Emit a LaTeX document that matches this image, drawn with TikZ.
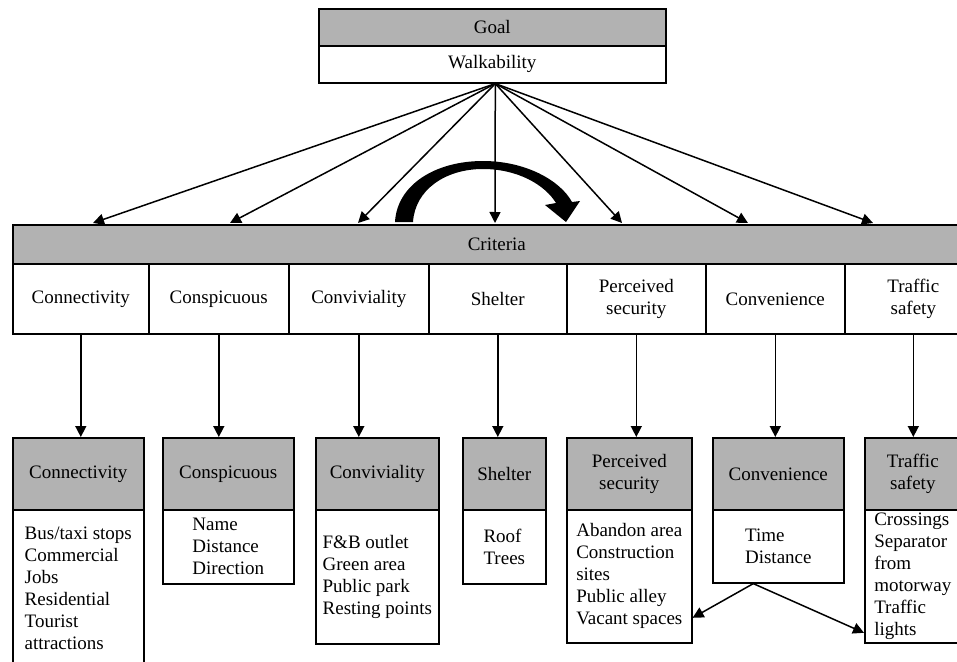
\documentclass[tikz,border=0pt]{standalone}
\usepackage{fontspec}
\setmainfont{Liberation Serif}
\usetikzlibrary{arrows.meta}

\tikzset{
  box/.style={draw, line width=1.6pt, inner sep=0pt, anchor=north west},
  headbox/.style={box, fill=black!30},
  bodybox/.style={box, fill=white, align=left},
  arr/.style={-{Triangle[length=11pt, width=11pt]}, line width=1.5pt},
}

\begin{document}
\begin{tikzpicture}[x=1pt, y=-1pt, font=\fontsize{19}{22}\selectfont]
\useasboundingbox (0,0) rectangle (957,661);
\clip (0,0) rectangle (957,661);
\fill[white] (0,0) rectangle (957,661);

% goal
\node[headbox, minimum width=347, minimum height=37] (goal) at (318,8) {Goal};
\node[box, minimum width=347, minimum height=37] (walk) at (318,45) {Walkability};

% criteria bar and its cells
\node[headbox, minimum width=968, minimum height=39] (crit) at (12,224) {Criteria};
\foreach \x/\w/\name/\txt in {12/136/c1/Connectivity, 148/140/c2/Conspicuous,
    288/140/c3/Conviviality, 428/138/c4/Shelter, 566/139/c5/{Perceived\\security},
    705/139/c6/Convenience, 844/137/c7/{Traffic\\safety}}
  \node[box, align=center, minimum width=\w, minimum height=70] (\name) at (\x,263) {\txt};

% arrows from the goal
\foreach \x [count=\i] in {93,230,358,495,622,748,873}
  \coordinate (t\i) at (\x,223);
\foreach \i in {1,...,7}
  \draw[arr] ([xshift=3pt]walk.south) -- (t\i);

% feedback arrow
\fill (395,222) .. controls (397,185) and (435,161) .. (483,161)
  .. controls (525,161) and (560,180) .. (572,202) -- (580,201) -- (566,222)
  -- (545,205) -- (556,203) .. controls (545,185) and (518,169) .. (483,169)
  .. controls (445,169) and (415,190) .. (413,222) -- cycle;

% sub-criteria boxes
\foreach \x/\w/\bh/\i/\hd/\bd in {
    12/131/156/1/Connectivity/{Bus/taxi stops\\Commercial\\Jobs\\Residential\\Tourist\\attractions},
    162/131/74/2/Conspicuous/{Name\\Distance\\Direction},
    315/123/134/3/Conviviality/{F\&B outlet\\Green area\\Public park\\Resting points},
    462/83/74/4/Shelter/{Roof\\Trees},
    566/125/133/5/{Perceived\\security}/{Abandon area\\Construction\\sites\\Public alley\\Vacant spaces},
    712/131/73/6/Convenience/{Time\\Distance},
    864/96/133/7/{Traffic\\safety}/{Crossings\\Separator\\from\\motorway\\Traffic\\lights}} {
  \node[headbox, align=center, minimum width=\w, minimum height=72] (h\i) at (\x,437) {\hd};
  \node[bodybox, minimum width=\w, minimum height=\bh] (b\i) at (\x,509) {\bd};
}

% criteria to sub-criteria
\foreach \i in {1,...,7}
  \draw[arr] (c\i.south) -- (c\i.south |- h\i.north);

% convenience links
\draw[arr] ([xshift=-25pt]b6.south) -- ([yshift=-41.5pt]b5.east);
\draw[arr] ([xshift=-25pt]b6.south) -- ([yshift=-56.5pt]b7.west);
\end{tikzpicture}
\end{document}
